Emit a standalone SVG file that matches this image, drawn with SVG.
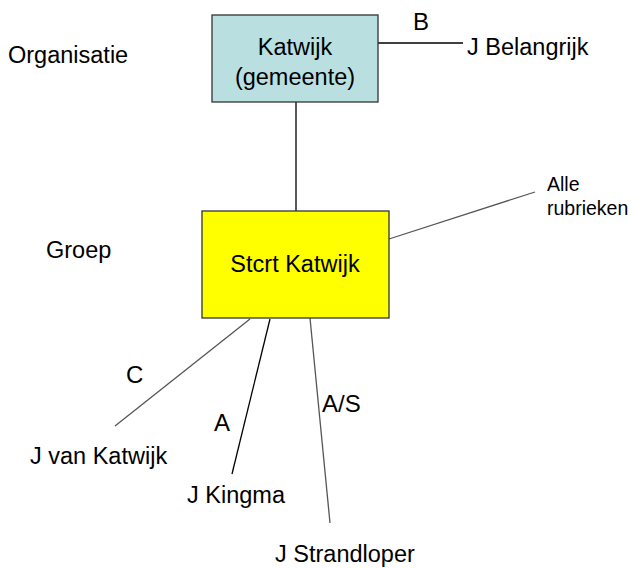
<svg xmlns="http://www.w3.org/2000/svg" width="634" height="568" viewBox="0 0 634 568">
<style>
text{font-family:"Liberation Sans",Arial,sans-serif;fill:#000}
.t{font-size:23.5px}
.s{font-size:19.5px}
.l{font-size:24px}
.dark{stroke:#000;stroke-width:1.3;fill:none}
.gray{stroke:#555;stroke-width:1.3;fill:none}
</style>
<rect width="634" height="568" fill="#fff"/>
<text class="t" x="8" y="63">Organisatie</text>
<text class="t" x="46" y="258">Groep</text>
<g id="connectors">
<line class="dark" x1="378" y1="43" x2="463" y2="43"/>
<line class="dark" x1="296" y1="102" x2="296" y2="211"/>
<line class="gray" x1="389" y1="239" x2="535" y2="192"/>
<line class="gray" x1="250" y1="319" x2="115" y2="426"/>
<line class="dark" x1="270" y1="319" x2="232" y2="474"/>
<line class="gray" x1="310" y1="318" x2="330" y2="523"/>
<text class="l" x="413" y="30">B</text>
<text class="l" x="126" y="383">C</text>
<text class="l" x="214" y="431">A</text>
<text class="l" x="322" y="412">A/S</text>
</g>
<g id="katwijk">
<rect x="212" y="15" width="166" height="87" fill="#B9DFE0" stroke="#333" stroke-width="1.3"/>
<text class="t" x="295" y="55" text-anchor="middle">Katwijk</text>
<text class="t" x="295" y="85" text-anchor="middle">(gemeente)</text>
</g>
<g id="stcrt">
<rect x="202" y="211" width="187" height="107" fill="#FFFF00" stroke="#333" stroke-width="1.3"/>
<text class="t" x="295" y="272" text-anchor="middle">Stcrt Katwijk</text>
</g>
<g id="belangrijk"><text class="t" x="467" y="55">J Belangrijk</text></g>
<g id="alle"><text class="s" x="547" y="191">Alle</text><text class="s" x="547" y="215">rubrieken</text></g>
<g id="vankatwijk"><text class="t" x="30" y="464">J van Katwijk</text></g>
<g id="kingma"><text class="t" x="187" y="503">J Kingma</text></g>
<g id="strandloper"><text class="t" x="275" y="562">J Strandloper</text></g>
</svg>
